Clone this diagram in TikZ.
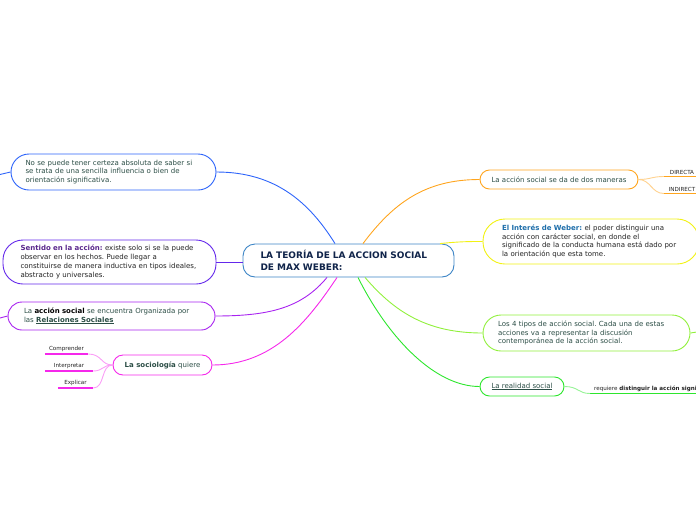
\documentclass[tikz,border=0pt]{standalone}
\usepackage{fontspec}
\setmainfont{DejaVu Sans}
\usepackage{tikz}
\usetikzlibrary{positioning}
\usepackage{xcolor}
\definecolor{Tronco}{RGB}{61,133,198}
\definecolor{Titulo}{RGB}{16,36,74}
\definecolor{Texto}{RGB}{44,78,70}
\definecolor{Oscuro}{RGB}{35,35,35}
\definecolor{Azul}{RGB}{45,100,250}
\definecolor{Indigo}{RGB}{100,40,235}
\definecolor{Purpura}{RGB}{168,35,240}
\definecolor{Rosa}{RGB}{245,40,235}
\definecolor{Naranja}{RGB}{255,165,30}
\definecolor{Amarillo}{RGB}{242,242,20}
\definecolor{Lima}{RGB}{145,240,60}
\definecolor{Verde}{RGB}{45,230,45}
\definecolor{Violeta}{RGB}{90,40,140}
\definecolor{Azulito}{RGB}{30,110,170}
\frenchspacing

\begin{document}
\begin{tikzpicture}[x=1pt,y=-1pt,
  rama/.style={draw, line width=0.9pt, fill=white, align=left, text=Texto,
    font=\fontsize{7}{8.8}\selectfont, inner ysep=0pt},
  hoja/.style={inner xsep=1pt, inner ysep=2pt, text=Oscuro, font=\fontsize{5.6}{6}\selectfont},
  enlace/.style={line width=0.9pt}]
\clip (0,0) rectangle (696,520);
%
% tronco
\node[rama, draw=Tronco, rounded corners=12pt, text width=176pt, inner xsep=17.5pt,
  minimum height=33pt, text=Titulo, font=\bfseries\fontsize{9}{12}\selectfont] (tronco) at (348.5,260.5)
  {LA TEORÍA DE LA ACCION SOCIAL\\DE MAX WEBER:};
%
% ramas izquierda
\node[rama, draw=Azul, rounded corners=18pt, text width=176pt, inner xsep=14.5pt, minimum height=36pt] (certeza) at (113.5,172)
  {No se puede tener certeza absoluta de saber si\\se trata de una sencilla influencia o bien de\\orientación significativa.};
\node[rama, draw=Indigo, rounded corners=20pt, text width=178pt, inner xsep=17.5pt, minimum height=44pt, text=Oscuro] (sentido) at (109.5,262)
  {\textcolor{Violeta}{\textbf{Sentido en la acción:}} existe solo si se la puede\\observar en los hechos. Puede llegar a\\constituirse de manera inductiva en tipos ideales,\\abstracto y universales.};
\node[rama, draw=Purpura, rounded corners=14pt, text width=175pt, inner xsep=16pt, minimum height=28pt] (organizada) at (111.5,316)
  {La \textcolor{black}{\textbf{acción social}} se encuentra Organizada por\\las \underline{\textbf{Relaciones Sociales}}};
\node[rama, draw=Rosa, rounded corners=10pt, align=center, minimum width=99pt, minimum height=20pt] (sociologia) at (162.5,365)
  {\textbf{La sociología} quiere};
%
% ramas derecha
\node[rama, draw=Naranja, rounded corners=9.5pt, align=center, minimum width=158pt, minimum height=19pt] (maneras) at (559,179.5)
  {La acción social se da de dos maneras};
\node[rama, draw=Amarillo, rounded corners=22pt, text width=178pt, inner xsep=19pt, minimum height=45pt, text=Oscuro] (interes) at (591,241.5)
  {\textcolor{Azulito}{\textbf{El Interés de Weber:}} el poder distinguir una\\acción con carácter social, en donde el\\significado de la conducta humana está dado por\\la orientación que esta tome.};
\node[rama, draw=Lima, rounded corners=18pt, text width=177pt, inner xsep=15pt, minimum height=36pt] (tipos) at (586.5,333)
  {Los 4 tipos de acción social. Cada una de estas\\acciones va a representar la discusión\\contemporánea de la acción social.};
\node[rama, draw=Verde, rounded corners=9.5pt, align=center, minimum width=84pt, minimum height=19pt] (realidad) at (522,386.5)
  {\underline{La realidad social}};
%
% conectores al tronco
\draw[enlace, Azul] (certeza.east) .. controls +(60,0) and +(-25,-40) .. ([xshift=-13.5pt]tronco.north);
\draw[enlace, Indigo] (sentido.east) -- (sentido.east -| tronco.west);
\draw[enlace, Purpura] (organizada.east) .. controls +(55,0) and +(-25,30) .. ([xshift=-21.5pt]tronco.south);
\draw[enlace, Rosa] (sociologia.east) .. controls +(60,0) and +(-30,45) .. ([xshift=-11.5pt]tronco.south);
\draw[enlace, Naranja] ([xshift=14.5pt]tronco.north) .. controls +(30,-40) and +(-55,0) .. (maneras.west);
\draw[enlace, Amarillo] ([xshift=91.5pt]tronco.north) .. controls +(20,-2) and +(-15,0) .. (interes.west);
\draw[enlace, Lima] ([xshift=16.5pt]tronco.south) .. controls +(30,35) and +(-55,0) .. (tipos.west);
\draw[enlace, Verde] ([xshift=9.5pt]tronco.south) .. controls +(30,60) and +(-45,0) .. (realidad.west);
%
% ramas que salen del cuadro
\coordinate (fuera1) at (0,174.5);
\coordinate (fuera2) at (0,318);
\coordinate (fuera3) at (697,332);
\draw[enlace, Azul] (certeza.west) -- (fuera1);
\draw[enlace, Purpura] (organizada.west) -- (fuera2);
\draw[enlace, Lima] (tipos.east) -- (fuera3);
%
% hojas
\node[hoja, anchor=south, minimum width=43pt] (comprender) at (66.5,354) {Comprender};
\node[hoja, anchor=south, minimum width=48pt] (interpretar) at (69,371) {Interpretar};
\node[hoja, anchor=south, minimum width=35pt] (explicar) at (75.5,388) {Explicar};
\node[hoja, anchor=south, minimum width=36pt] (directa) at (682,176.5) {DIRECTA};
\node[hoja, anchor=south, minimum width=36pt] (indirecta) at (682,193.5) {INDIRECT};
\node[hoja, anchor=south west, minimum width=110pt, align=left, inner xsep=4pt] (requiere) at (590,393.5)
  {requiere \textbf{distinguir la acción signi}};
%
\draw[line width=1.6pt, Rosa] (comprender.south west) -- (comprender.south east);
\draw[line width=1.6pt, Rosa] (interpretar.south west) -- (interpretar.south east);
\draw[line width=1.6pt, Rosa] (explicar.south west) -- (explicar.south east);
\draw[line width=1.6pt, Naranja] (directa.south west) -- (directa.south east);
\draw[line width=1.6pt, Naranja] (indirecta.south west) -- (indirecta.south east);
\draw[line width=1.6pt, Verde] (requiere.south west) -- (requiere.south east);
%
\draw[enlace, Rosa!45] (comprender.south east) .. controls +(14,0) and +(-12,0) .. (sociologia.west);
\draw[enlace, Rosa!45] (interpretar.south east) .. controls +(10,0) and +(-10,0) .. (sociologia.west);
\draw[enlace, Rosa!45] (explicar.south east) .. controls +(12,0) and +(-12,0) .. (sociologia.west);
\draw[enlace, Naranja!50] (maneras.east) .. controls +(12,0) and +(-12,0) .. (directa.south west);
\draw[enlace, Naranja!50] (maneras.east) .. controls +(12,0) and +(-12,0) .. (indirecta.south west);
\draw[enlace, Verde!50] (realidad.east) .. controls +(14,0) and +(-12,0) .. (requiere.south west);
%
\end{tikzpicture}
\end{document}
